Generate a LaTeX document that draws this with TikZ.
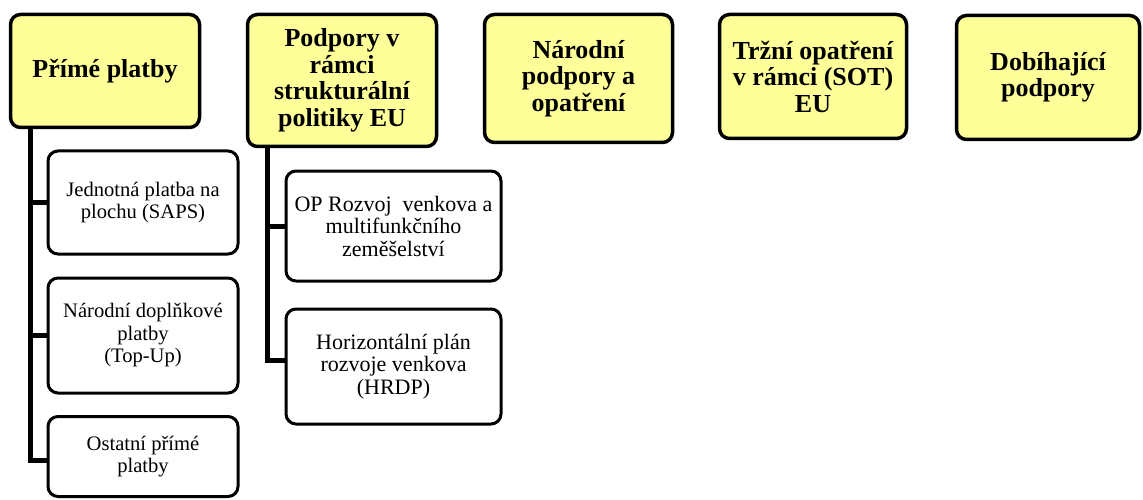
\documentclass[tikz,border=0pt]{standalone}
\usepackage{fontspec}
\setmainfont{Liberation Serif}
\definecolor{boxyellow}{HTML}{FFFF99}
\tikzset{
  titlebox/.style={draw=black, line width=3.5pt, fill=boxyellow, rounded corners=10pt,
    inner sep=0pt, align=center, font=\fontsize{26}{26.5}\selectfont\bfseries},
  childbox/.style={draw=black, line width=3pt, fill=white, rounded corners=10pt,
    inner sep=0pt, align=center, font=\fontsize{20.6}{22.5}\selectfont},
  childboxb/.style={childbox, font=\fontsize{22}{22.5}\selectfont},
  conn/.style={draw=black, line width=5pt, line cap=rect}
}
\begin{document}
\begin{tikzpicture}[x=1pt,y=-1pt]
\useasboundingbox (0,0) rectangle (1143,500);
% titles
\node[titlebox, minimum width=189pt, minimum height=113pt] (t1) at (105,71) {Přímé platby};
\node[titlebox, minimum width=189pt, minimum height=132pt] (t2) at (342,80.5) {Podpory v\\rámci\\strukturální\\politiky EU};
\node[titlebox, minimum width=188pt, minimum height=128pt] (t3) at (578.5,78.5) {Národní\\podpory a\\opatření};
\node[titlebox, minimum width=187pt, minimum height=124pt] (t4) at (813,76.5) {Tržní opatření\\v rámci (SOT)\\EU};
\node[titlebox, minimum width=183pt, minimum height=124pt] (t5) at (1048,77.5) {Dobíhající\\podpory};
% children col 1
\node[childbox, minimum width=190pt, minimum height=103pt] (a1) at (143,202.5) {Jednotná platba na\\plochu (SAPS)};
\node[childbox, minimum width=190pt, minimum height=115pt] (a2) at (143,335.5) {Národní doplňkové\\platby\\(Top-Up)};
\node[childbox, minimum width=190pt, minimum height=80pt] (a3) at (143,456.5) {Ostatní přímé\\platby};
% children col 2
\node[childboxb, minimum width=215pt, minimum height=110pt] (b1) at (393.5,226) {OP Rozvoj\ \ venkova a\\multifunkčního\\zeměšelství};
\node[childboxb, minimum width=215pt, minimum height=115pt] (b2) at (393.5,366.5) {Horizontální plán\\rozvoje venkova\\(HRDP)};
% connectors
\coordinate (ca) at (30,0);
\coordinate (cb) at (267,0);
\draw[conn] (t1.south -| ca) |- (a1.west);
\draw[conn] (t1.south -| ca) |- (a2.west);
\draw[conn] (t1.south -| ca) |- ([yshift=-3.5pt]a3.west);
\draw[conn] (t2.south -| cb) |- (b1.west);
\draw[conn] (t2.south -| cb) |- ([yshift=6pt]b2.west);
\end{tikzpicture}
\end{document}
